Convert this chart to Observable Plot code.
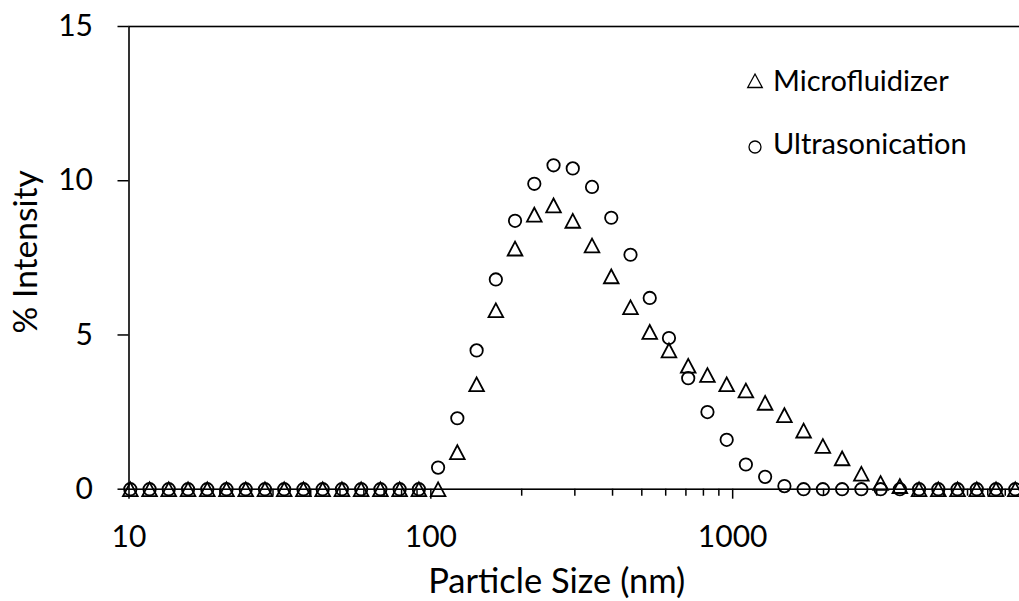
<!DOCTYPE html>
<html><head><meta charset="utf-8">
<script src="https://cdn.jsdelivr.net/npm/d3@7"></script>
<script src="https://cdn.jsdelivr.net/npm/@observablehq/plot@0.6"></script>
<style>
html,body{margin:0;padding:0;background:#fff;overflow:hidden;}
#wrap{position:relative;width:1019px;height:601px;overflow:hidden;background:#fff;}
.lg-text{position:absolute;left:773px;font-family:Lato,sans-serif;font-size:29px;line-height:30px;color:#000;white-space:nowrap;}
.lg-sym{position:absolute;left:745px;width:20px;height:20px;}
</style></head><body>
<div id="wrap"></div>
<script>
// Particle size bins (nm)
const sizes = [10.10, 11.70, 13.54, 15.69, 18.17, 21.04, 24.36, 28.21, 32.67, 37.84, 43.82, 50.75, 58.77, 68.06, 78.82, 91.28,
  105.7, 122.4, 141.8, 164.2, 190.1, 220.2, 255.0, 295.3, 342.0, 396.1, 458.7, 531.2, 615.1, 712.4, 825.0, 955.4,
  1106, 1281, 1484, 1718, 1990, 2305, 2669, 3091, 3580, 4145, 4801, 5560, 6439, 7456, 8635];
// % Intensity
const microfluidizer = [0, 0, 0, 0, 0, 0, 0, 0, 0, 0, 0, 0, 0, 0, 0, 0,
  0, 1.2, 3.4, 5.8, 7.8, 8.9, 9.2, 8.7, 7.9, 6.9, 5.9, 5.1, 4.5, 4.0, 3.7, 3.4,
  3.2, 2.8, 2.4, 1.9, 1.4, 1.0, 0.5, 0.2, 0.1, 0, 0, 0, 0, 0, 0];
const ultrasonication = [0, 0, 0, 0, 0, 0, 0, 0, 0, 0, 0, 0, 0, 0, 0, 0,
  0.7, 2.3, 4.5, 6.8, 8.7, 9.9, 10.5, 10.4, 9.8, 8.8, 7.6, 6.2, 4.9, 3.6, 2.5, 1.6,
  0.8, 0.4, 0.1, 0, 0, 0, 0, 0, 0, 0, 0, 0, 0, 0, 0];
const seriesNames = ["Microfluidizer", "Ultrasonication"];
const xMajorTicks = [10, 100, 1000];
const xMinorTicks = [20, 30, 40, 50, 60, 70, 80, 90, 200, 300, 400, 500, 600, 700, 800, 900, 2000, 3000, 4000, 5000, 6000, 7000, 8000, 9000];
const yTicks = [0, 5, 10, 15];
const xTitle = "Particle Size (nm)";
const yTitle = "% Intensity";

const micro = sizes.map((s, i) => ({size: s, value: microfluidizer[i]}));
const ultra = sizes.map((s, i) => ({size: s, value: ultrasonication[i]}));

// triangle centred on its bounding box (like a spreadsheet marker)
const triBox = {
  draw(ctx, size) {
    const r = Math.sqrt(size / Math.PI);
    const hw = r * 1.22, hh = r * 1.15;
    ctx.moveTo(0, -hh);
    ctx.lineTo(hw, hh);
    ctx.lineTo(-hw, hh);
    ctx.closePath();
  }
};

const plot = Plot.plot({
  width: 1034, height: 601,
  marginLeft: 128.5, marginRight: 0, marginTop: 26, marginBottom: 112.3,
  style: {fontFamily: "Lato, sans-serif", background: "white", color: "black"},
  x: {type: "log", domain: [10, 10000]},
  y: {domain: [0, 15]},
  marks: [
    Plot.axisX(xMinorTicks, {tickSize: 7, tickFormat: () => "", label: null, strokeWidth: 1.5}),
    Plot.axisX(xMajorTicks, {tickSize: 10, tickPadding: 26, fontSize: 30, tickFormat: d => String(d), label: null, strokeWidth: 1.5}),
    Plot.axisY(yTicks, {tickSize: 11, tickPadding: 25, fontSize: 30, label: null, strokeWidth: 1.5}),
    Plot.frame({stroke: "black", strokeWidth: 1.6}),
    Plot.dot(ultra, {x: "size", y: "value", r: 6.2, stroke: "black", strokeWidth: 1.8, fill: "none"}),
    Plot.dot(micro, {x: "size", y: "value", r: 6, symbol: triBox, stroke: "black", strokeWidth: 1.8, fill: "none"}),
    Plot.text([xTitle], {frameAnchor: "bottom", textAnchor: "middle", lineAnchor: "middle", dx: -25, dy: 93, fontSize: 34.5, fill: "black"}),
    Plot.text([yTitle], {frameAnchor: "left", textAnchor: "middle", lineAnchor: "middle", rotate: -90, dx: -103, dy: -6, fontSize: 33.5, fill: "black"})
  ]
});
plot.style.maxWidth = "none";
const wrap = document.getElementById("wrap");
wrap.appendChild(plot);

// legend
const legendItems = [
  {name: seriesNames[0], top: 65, symTop: 71, sym: '<polygon points="10,3 17.3,16.5 2.7,16.5" fill="none" stroke="black" stroke-width="1.3"/>'},
  {name: seriesNames[1], top: 128, symTop: 137, sym: '<circle cx="10" cy="10" r="6" fill="none" stroke="black" stroke-width="1.3"/>'}
];
for (const it of legendItems) {
  const s = document.createElement("div");
  s.className = "lg-sym";
  s.style.top = it.symTop + "px";
  s.innerHTML = '<svg width="20" height="20" viewBox="0 0 20 20">' + it.sym + '</svg>';
  wrap.appendChild(s);
  const t = document.createElement("div");
  t.className = "lg-text";
  t.style.top = it.top + "px";
  t.textContent = it.name;
  wrap.appendChild(t);
}
</script>
</body></html>
